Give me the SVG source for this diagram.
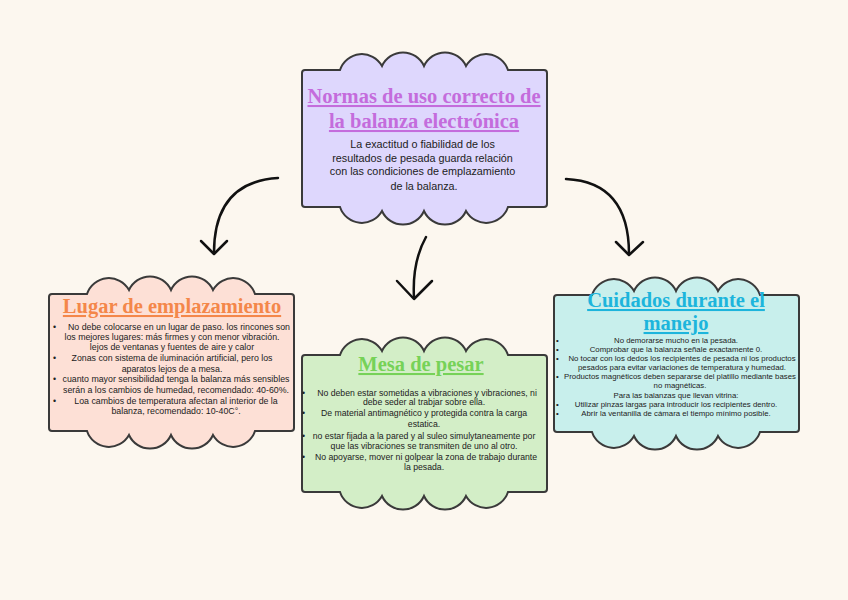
<svg xmlns="http://www.w3.org/2000/svg" xmlns:xlink="http://www.w3.org/1999/xlink" width="848" height="600" viewBox="0 0 848 600">
<style>
.cloud{stroke:#3a3a3a;stroke-width:2}
.title{font-family:"Liberation Serif","Times New Roman",serif;font-weight:bold;text-anchor:middle;text-decoration:underline}
.body{font-family:"Liberation Sans",Arial,sans-serif;fill:#222;text-anchor:middle}
.conn{fill:none;stroke:#111;stroke-width:2.5;stroke-linecap:round;stroke-linejoin:round}
</style>
<defs>
<path id="cloud" d="M3,0 H38 A23 23 0 0 1 80,-4 A23 23 0 0 1 122,-4 A23 23 0 0 1 164,-4 A23 23 0 0 1 206,0 H242 Q245,0 245,3 V134 Q245,137 242,137 H206 A23 23 0 0 1 164,141 A23 23 0 0 1 122,141 A23 23 0 0 1 80,141 A23 23 0 0 1 38,137 H3 Q0,137 0,134 V3 Q0,0 3,0 Z"/>
</defs>
<rect width="848" height="600" fill="#fcf7ef"/>

<g id="connectors">
<path class="conn" d="M278,178 Q214,182 214,253"/>
<path class="conn" d="M201,241 L214,254 L227,241"/>
<path class="conn" d="M426,237 Q412,262 414,298"/>
<path class="conn" d="M397,281 L414,299 L432,281"/>
<path class="conn" d="M566,179 Q629,182 629,254"/>
<path class="conn" d="M616,242 L629,255 L643,242"/>
</g>

<g id="node-normas">
<use xlink:href="#cloud" href="#cloud" class="cloud" fill="#ded7fd" transform="translate(302,70)"/>
<text class="title" x="424" y="103" font-size="20.5" fill="#c46cdc">Normas de uso correcto de</text>
<text class="title" x="424" y="128" font-size="20.5" fill="#c46cdc">la balanza electrónica</text>
<text class="body" font-size="10.8">
<tspan x="424" y="148">La exactitud o fiabilidad de los</tspan>
<tspan x="424" y="162">resultados de pesada guarda relación</tspan>
<tspan x="424" y="175">con las condiciones de emplazamiento</tspan>
<tspan x="424" y="190">de la balanza.</tspan>
</text>
</g>

<g id="node-lugar">
<use xlink:href="#cloud" href="#cloud" class="cloud" fill="#fde0d6" transform="translate(49,294)"/>
<text class="title" x="172" y="313" font-size="20.5" fill="#f4874a">Lugar de emplazamiento</text>
<g class="body" font-size="8.8">
<text x="53" y="330" text-anchor="start">•</text>
<text x="179" y="330">No debe colocarse en un lugar de paso. los rincones son</text>
<text x="172" y="340">los mejores lugares: más firmes y con menor vibración.</text>
<text x="172" y="350">lejos de ventanas y fuentes de aire y calor</text>
<text x="53" y="361" text-anchor="start">•</text>
<text x="172" y="361">Zonas con sistema de iluminación artificial, pero los</text>
<text x="172" y="372">aparatos lejos de a mesa.</text>
<text x="53" y="382" text-anchor="start">•</text>
<text x="176" y="382">cuanto mayor sensibilidad tenga la balanza más sensibles</text>
<text x="176" y="393">serán a los cambios de humedad, recomendado: 40-60%.</text>
<text x="53" y="404" text-anchor="start">•</text>
<text x="176" y="404">Loa cambios de temperatura afectan al interior de la</text>
<text x="176" y="414">balanza, recomendado: 10-40C°.</text>
</g>
</g>

<g id="node-mesa">
<use xlink:href="#cloud" href="#cloud" class="cloud" fill="#d3eec7" transform="translate(302,355)"/>
<text class="title" x="421" y="371" font-size="20.5" fill="#76d258">Mesa de pesar</text>
<g class="body" font-size="8.7">
<text x="302" y="396" text-anchor="start">•</text>
<text x="427" y="396">No deben estar sometidas a vibraciones y vibraciones, ni</text>
<text x="424" y="405">debe seder al trabjar sobre ella.</text>
<text x="302" y="416" text-anchor="start">•</text>
<text x="424" y="416">De material antimagnético y protegida contra la carga</text>
<text x="424" y="427">estatica.</text>
<text x="302" y="439" text-anchor="start">•</text>
<text x="424" y="439">no estar fijada a la pared y al suleo simulytaneamente por</text>
<text x="424" y="449">que las vibraciones se transmiten de uno al otro.</text>
<text x="302" y="460" text-anchor="start">•</text>
<text x="426" y="460">No apoyarse, mover ni golpear la zona de trabajo durante</text>
<text x="424" y="470">la pesada.</text>
</g>
</g>

<g id="node-cuidados">
<use xlink:href="#cloud" href="#cloud" class="cloud" fill="#c8efec" transform="translate(554,295)"/>
<text class="title" x="676" y="307" font-size="20.5" fill="#1db5dc">Cuidados durante el</text>
<text class="title" x="676" y="330" font-size="20.5" fill="#1db5dc">manejo</text>
<g class="body" font-size="7.8">
<text x="556" y="343" text-anchor="start">•</text>
<text x="676" y="343">No demorarse mucho en la pesada.</text>
<text x="556" y="352" text-anchor="start">•</text>
<text x="676" y="352">Comprobar que la balanza señale exactamente 0.</text>
<text x="556" y="361" text-anchor="start">•</text>
<text x="682" y="361">No tocar con los dedos los recipientes de pesada ni los productos</text>
<text x="682" y="370">pesados para evitar variaciones de temperatura y humedad.</text>
<text x="556" y="379" text-anchor="start">•</text>
<text x="680" y="379">Productos magnéticos deben separarse del platillo mediante bases</text>
<text x="680" y="388">no magnéticas.</text>
<text x="676" y="398">Para las balanzas que llevan vitrina:</text>
<text x="556" y="407" text-anchor="start">•</text>
<text x="676" y="407">Utilizar pinzas largas para introducir los recipientes dentro.</text>
<text x="556" y="416" text-anchor="start">•</text>
<text x="676" y="416">Abrir la ventanilla de cámara el tiempo mínimo posible.</text>
</g>
</g>
</svg>
